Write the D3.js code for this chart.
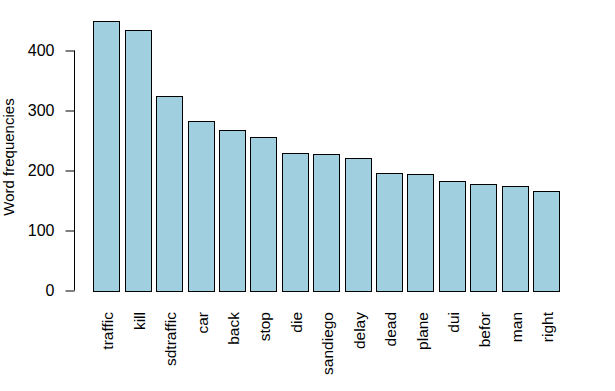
<!DOCTYPE html>
<html>
<head>
<meta charset="utf-8">
<script src="https://cdn.jsdelivr.net/npm/d3@7"></script>
<style>
html,body{margin:0;padding:0;background:#fff;}
svg{display:block;}
text{font-family:"Liberation Sans",Arial,sans-serif;fill:#000;}
</style>
</head>
<body>
<svg id="chart" width="615" height="391"></svg>
<script>
const words = ["traffic","kill","sdtraffic","car","back","stop","die","sandiego","delay","dead","plane","dui","befor","man","right"];
const freqs = [450,435,324,283,268,256,230,228,221,196,194,183,178,174,166];
const yTicks = [0,100,200,300,400];
const yTitle = "Word frequencies";

const svg = d3.select("#chart");

const x = d3.scaleBand()
  .domain(words)
  .range([93.3, 559.3])
  .paddingInner(1/6)
  .paddingOuter(0);

const y = d3.scaleLinear().domain([0,400]).range([290.5,50.5]);

// bars
svg.append("g").selectAll("rect")
  .data(words.map((w,i)=>({w, v:freqs[i]})))
  .join("rect")
  .attr("x", d=>Math.round(x(d.w))+0.5)
  .attr("y", d=>Math.round(y(d.v))+0.5)
  .attr("width", Math.round(x.bandwidth()))
  .attr("height", d=>Math.round(y(0)) - Math.round(y(d.v)))
  .attr("fill", "#a0cfe0")
  .attr("stroke", "#000")
  .attr("stroke-width", 1);

// y axis
const axisX = 74.5;
const yAxis = d3.axisLeft(y).tickValues(yTicks).tickSize(9).tickPadding(11).tickSizeOuter(0);
const gy = svg.append("g").attr("transform", `translate(${axisX},0)`).call(yAxis);
gy.select(".domain").remove();
gy.selectAll(".tick line").attr("stroke","#000");
gy.selectAll(".tick text").attr("font-size","16px").attr("font-family","Liberation Sans, Arial, sans-serif").attr("fill","#000");
svg.append("line")
  .attr("x1",axisX).attr("x2",axisX)
  .attr("y1",y(0)).attr("y2",y(400))
  .attr("stroke","#000");

// x labels
svg.append("g").selectAll("text")
  .data(words)
  .join("text")
  .attr("transform", d=>`translate(${x(d)+x.bandwidth()/2},312) rotate(-90)`)
  .attr("dy","0.45em")
  .attr("text-anchor","end")
  .attr("font-size","15.5px")
  .text(d=>d);

// y title
svg.append("text")
  .attr("transform", `translate(14,157) rotate(-90)`)
  .attr("text-anchor","middle")
  .attr("font-size","15px")
  .text(yTitle);
</script>
</body>
</html>
